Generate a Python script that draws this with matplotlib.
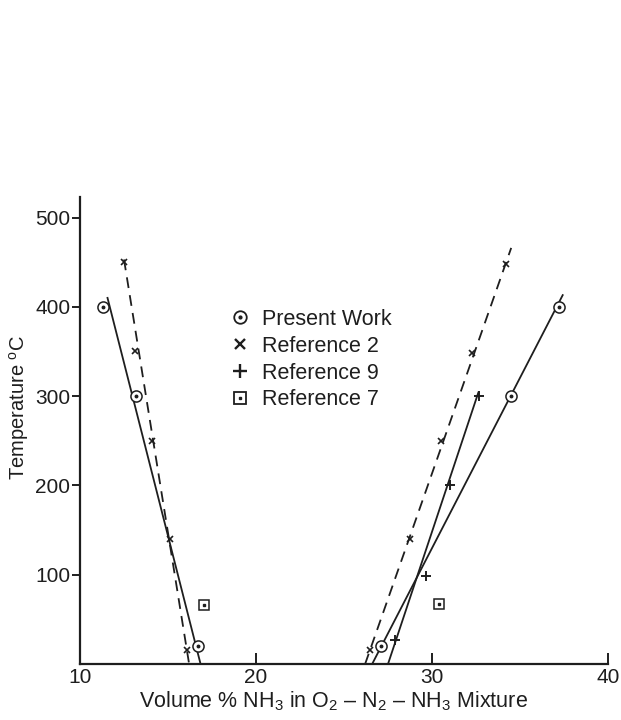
import matplotlib
matplotlib.use("Agg")
import matplotlib.pyplot as plt
from matplotlib.lines import Line2D
from matplotlib.legend_handler import HandlerTuple

plt.rcParams['font.family'] = ['Liberation Sans', 'DejaVu Sans']
plt.rcParams['mathtext.fontset'] = 'custom'
plt.rcParams['mathtext.rm'] = 'Liberation Sans'
plt.rcParams['mathtext.it'] = 'Liberation Sans:italic'
plt.rcParams['mathtext.bf'] = 'Liberation Sans:bold'

INK = '#1e1e1e'

# ---------------- data ----------------
# Present Work (circle with dot)
pw_x = [11.3, 13.2, 16.7, 27.1, 34.5, 37.2]
pw_y = [400, 300, 20, 20, 300, 400]
# Reference 2 (x)
r2_x = [12.5, 13.1, 14.1, 15.1, 16.1, 26.45, 28.75, 30.5, 32.3, 34.2]
r2_y = [450, 350, 250, 140, 16, 16, 140, 250, 348, 448]
# Reference 9 (+)
r9_x = [27.9, 29.65, 31.0, 32.65]
r9_y = [27, 99, 201, 300]
# Reference 7 (square with dot)
r7_x = [17.05, 30.4]
r7_y = [66, 67]

# drawn correlation lines (end points)
pw_left_line_x = [11.55, 16.85]
pw_left_line_y = [411, 0]
pw_right_line_x = [26.6, 37.45]
pw_right_line_y = [0, 414]
r2_left_line_x = [12.5, 16.2]
r2_left_line_y = [453, 0]
r2_right_line_x = [26.2, 34.5]
r2_right_line_y = [0, 466]
r9_line_x = [27.5, 32.65]
r9_line_y = [0, 305]

x_ticks = [10, 20, 30, 40]
y_ticks = [100, 200, 300, 400, 500]
legend_labels = ['Present Work', 'Reference 2', 'Reference 9', 'Reference 7']

# ---------------- figure ----------------
fig = plt.figure(figsize=(6.21, 7.2), dpi=100)
ax = fig.add_axes([80/621, 1 - 664/720, (608 - 80)/621, (664 - 197)/720])
ax.set_xlim(10, 40)
ax.set_ylim(0, 523)

lw = 1.3
# lines
ax.plot(pw_left_line_x, pw_left_line_y, color=INK, lw=lw, solid_capstyle='butt')
ax.plot(pw_right_line_x, pw_right_line_y, color=INK, lw=lw, solid_capstyle='butt')
ax.plot(r9_line_x, r9_line_y, color=INK, lw=lw, solid_capstyle='butt')
ax.plot(r2_left_line_x, r2_left_line_y, color=INK, lw=lw, dashes=(6, 4))
ax.plot(r2_right_line_x, r2_right_line_y, color=INK, lw=lw, dashes=(6, 4))

# markers
ax.plot(pw_x, pw_y, ls='none', marker='o', ms=8, mfc='white', mec=INK, mew=1.1, zorder=5)
ax.plot(pw_x, pw_y, ls='none', marker='o', ms=1.8, mfc=INK, mec=INK, zorder=6)
ax.plot(r2_x, r2_y, ls='none', marker='x', ms=5, mec=INK, mew=1.2, zorder=5)
ax.plot(r9_x, r9_y, ls='none', marker='+', ms=7, mec=INK, mew=1.4, zorder=5)
ax.plot(r7_x, r7_y, ls='none', marker='s', ms=6.5, mfc='white', mec=INK, mew=1.1, zorder=5)
ax.plot(r7_x, r7_y, ls='none', marker='s', ms=1.6, mfc=INK, mec=INK, zorder=6)

# spines / ticks
for s in ['top', 'right']:
    ax.spines[s].set_visible(False)
for s in ['left', 'bottom']:
    ax.spines[s].set_linewidth(1.6)
    ax.spines[s].set_color(INK)

ax.set_yticks(y_ticks)
ax.set_xticks(x_ticks)
ax.tick_params(axis='y', direction='out', length=6, width=1.4, color=INK,
               labelsize=15, labelcolor=INK, pad=1)
ax.tick_params(axis='x', direction='in', length=8, width=1.4, color=INK,
               labelsize=15, labelcolor=INK, pad=3)

ax.set_xlabel('Volume % NH$_3$ in O$_2$ \u2013 N$_2$ \u2013 NH$_3$ Mixture',
              fontsize=15.5, color=INK)
ax.xaxis.set_label_coords(0.481, -0.055)
ax.set_ylabel('Temperature $^{\\mathrm{o}}$C', fontsize=14.5, color=INK)
ax.yaxis.set_label_coords(-0.093, 0.55)

# legend
h_pw = (Line2D([], [], ls='none', marker='o', ms=9, mfc='white', mec=INK, mew=1.3),
        Line2D([], [], ls='none', marker='o', ms=2, mfc=INK, mec=INK))
h_r2 = Line2D([], [], ls='none', marker='x', ms=7.5, mec=INK, mew=1.7)
h_r9 = Line2D([], [], ls='none', marker='+', ms=10, mec=INK, mew=1.7)
h_r7 = (Line2D([], [], ls='none', marker='s', ms=8.5, mfc='white', mec=INK, mew=1.3),
        Line2D([], [], ls='none', marker='s', ms=2, mfc=INK, mec=INK))
leg = ax.legend([h_pw, h_r2, h_r9, h_r7], legend_labels,
                handler_map={tuple: HandlerTuple(ndivide=1, pad=0)},
                loc='upper left', bbox_to_anchor=((231 - 80)/528, (664 - 309)/467),
                frameon=False, fontsize=15.5, handlelength=0.8, handletextpad=0.62,
                labelspacing=0.27, borderpad=0, borderaxespad=0)
for t in leg.get_texts():
    t.set_color(INK)

fig.savefig('out.png', dpi=100, facecolor='white')
